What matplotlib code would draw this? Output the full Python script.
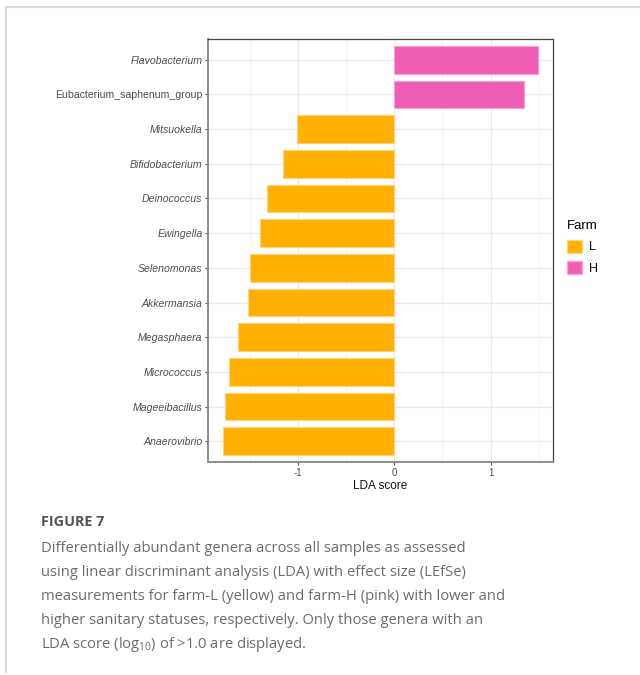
import numpy as np
import matplotlib
matplotlib.use("Agg")
import matplotlib.pyplot as plt
from matplotlib.patches import Patch
from matplotlib.lines import Line2D

plt.rcParams['font.family'] = ['Liberation Sans', 'DejaVu Sans']
plt.rcParams['mathtext.default'] = 'regular'

# genera, top to bottom as in the figure
genera = ['Flavobacterium', 'Eubacterium_saphenum_group', 'Mitsuokella',
          'Bifidobacterium', 'Deinococcus', 'Ewingella', 'Selenomonas',
          'Akkermansia', 'Megasphaera', 'Micrococcus', 'Mageeibacillus',
          'Anaerovibrio']
lda = [1.49, 1.35, -1.01, -1.16, -1.33, -1.40, -1.50, -1.52, -1.63,
       -1.72, -1.76, -1.78]
farm = ['H', 'H', 'L', 'L', 'L', 'L', 'L', 'L', 'L', 'L', 'L', 'L']
italic = [True, False, True, True, True, True, True, True, True, True,
          True, True]

fill = {'L': '#FFB000', 'H': '#F05DB5'}
edge = {'L': '#FFD47F', 'H': '#F7A2D6'}

caption = ["Differentially abundant genera across all samples as assessed",
           "using linear discriminant analysis (LDA) with effect size (LEfSe)",
           "measurements for farm-L (yellow) and farm-H (pink) with lower and",
           "higher sanitary statuses, respectively. Only those genera with an",
           "LDA score (log$_{10}$) of >1.0 are displayed."]

W, H = 640, 675
fig = plt.figure(figsize=(W / 100, H / 100), dpi=100)

def fx(px):
    return px / W

def fy(py):
    return 1 - py / H

# panel position in pixels
left, right, top, bottom = 208, 553, 39, 462
ax = fig.add_axes([fx(left), fy(bottom), fx(right - left), (bottom - top) / H])

n = len(genera)
ypos = np.arange(n)[::-1]
ax.barh(ypos, lda, height=0.8,
        color=[fill[f] for f in farm],
        edgecolor=[edge[f] for f in farm], linewidth=0.8, zorder=3)

ax.set_xlim(-1.94, 1.65)
ax.set_ylim(-0.6, n - 0.4)
ax.set_yticks(ypos)
ax.set_yticklabels(genera)
for lab, it in zip(ax.get_yticklabels(), italic):
    if it:
        lab.set_fontstyle('italic')
ax.set_xticks([-1, 0, 1])
ax.set_xticklabels(['-1', '0', '1'])
ax.set_xticks([-1.5, -0.5, 0.5, 1.5], minor=True)

ax.grid(True, which='major', color='#EBEBEB', lw=0.9, zorder=0)
ax.grid(True, which='minor', axis='x', color='#F3F3F3', lw=0.6, zorder=0)
ax.set_axisbelow(True)

ax.tick_params(axis='y', which='major', labelsize=7.6, colors='#4D4D4D',
               length=2.5, width=0.8, pad=1.5)
ax.tick_params(axis='x', which='major', labelsize=7, colors='#4D4D4D',
               length=2.5, width=0.8, pad=1.5)
ax.tick_params(axis='x', which='minor', length=0)
for lab in ax.get_xticklabels() + ax.get_yticklabels():
    lab.set_color('#4D4D4D')

for s in ['top', 'right']:
    ax.spines[s].set_color('#444444')
    ax.spines[s].set_linewidth(0.9)
for s in ['left', 'bottom']:
    ax.spines[s].set_color('#8C8C8C')
    ax.spines[s].set_linewidth(1.4)

ax.set_xlabel('LDA score', fontsize=8.5, color='#111111', labelpad=2)

handles = [Patch(facecolor=fill['L'], edgecolor=edge['L']),
           Patch(facecolor=fill['H'], edgecolor=edge['H'])]
leg = fig.legend(handles, ['L', 'H'], title='Farm', loc='upper left',
                 bbox_to_anchor=(fx(556), fy(209)), frameon=False,
                 fontsize=9, title_fontsize=9.5, handlelength=1.2,
                 handleheight=1.2, handletextpad=0.5, labelspacing=0.6,
                 alignment='left')

# outer frame
fig.add_artist(Line2D([fx(6), fx(6)], [fy(7), fy(672)], color='#D9D9D9', lw=1.5))
fig.add_artist(Line2D([fx(6), 1], [fy(7), fy(7)], color='#D9D9D9', lw=1.5))

fig.text(fx(41), fy(522), 'FIGURE 7', fontsize=10.4, fontweight='bold',
         color='#555555', family='Open Sans', va='center')
for i, line in enumerate(caption):
    fig.text(fx(41), fy(548 + 24 * i), line, fontsize=10.6, color='#6B6B6B',
             family='Open Sans', va='center')

fig.savefig('out.png', dpi=100)
